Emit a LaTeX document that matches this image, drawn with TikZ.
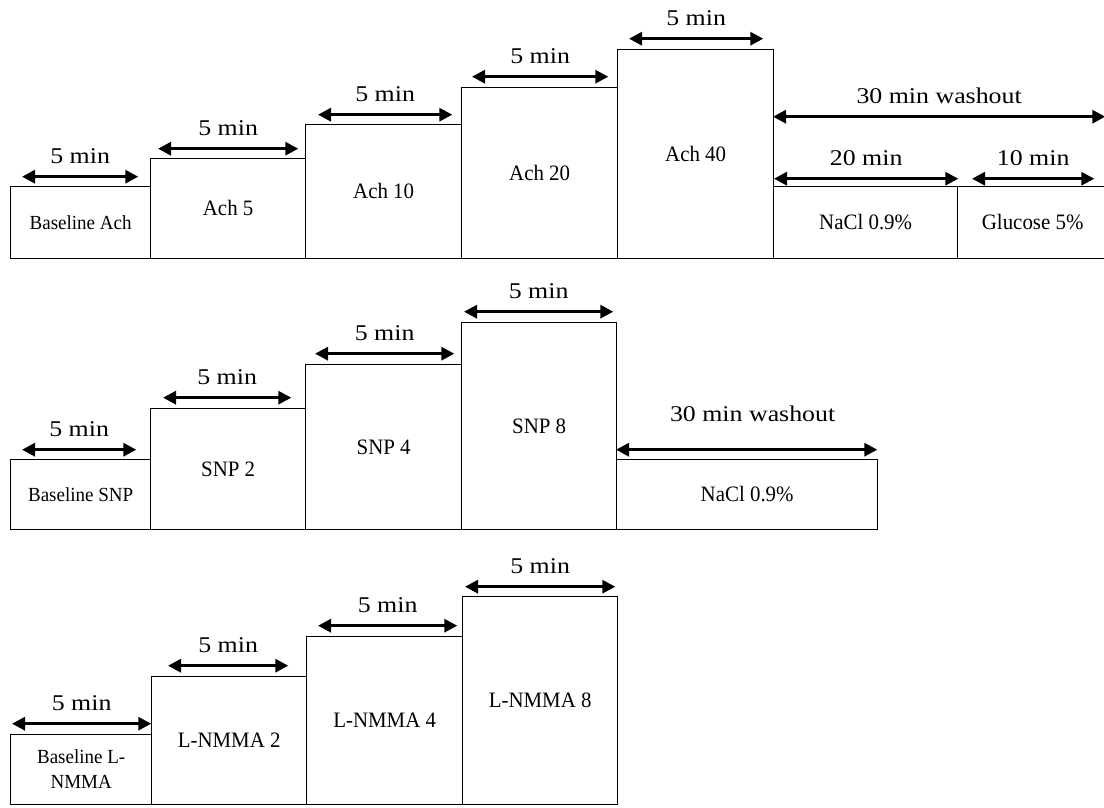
\documentclass[tikz,border=0pt]{standalone}
\usepackage{fontspec}
\setmainfont{Liberation Serif}
\newfontfamily\durfont[FakeStretch=1.15]{Liberation Serif}
\newfontfamily\stagefont[FakeStretch=0.95]{Liberation Serif}
\usetikzlibrary{arrows.meta}

\begin{document}
\begin{tikzpicture}[x=1pt,y=-1pt,>={Triangle[length=13pt,width=13pt]},
  stage/.style={draw,line width=1.3pt,anchor=south west,inner sep=0pt,align=center,
    font=\stagefont\fontsize{22}{25}\selectfont},
  basestage/.style={stage,font=\stagefont\fontsize{20}{25}\selectfont},
  dur/.style={<->,line width=3pt},
  durlbl/.style={midway,anchor=base,yshift=13pt,font=\durfont\fontsize{22.5}{24}\selectfont}]
  \useasboundingbox (0,0) rectangle (1104,808);

  % Ach protocol
  \node[basestage,minimum width=140pt,minimum height=72pt]  (ach0)  at (10,259)  {Baseline Ach};
  \node[stage,minimum width=155pt,minimum height=100pt]     (ach5)  at (150,259) {Ach 5};
  \node[stage,minimum width=156pt,minimum height=134pt]     (ach10) at (305,259) {Ach 10};
  \node[stage,minimum width=156pt,minimum height=171pt]     (ach20) at (461,259) {Ach 20};
  \node[stage,minimum width=156pt,minimum height=209pt]     (ach40) at (617,259) {Ach 40};
  \node[stage,minimum width=184pt,minimum height=72pt]      (nacl1) at (773,259) {NaCl 0.9\%};
  \node[stage,minimum width=150pt,minimum height=72pt]      (gluc)  at (957,259) {Glucose 5\%};
  \draw[dur] ([xshift=12pt,yshift=9pt]ach0.north west)   -- ([xshift=-13pt,yshift=9pt]ach0.north east)   node[durlbl] {5 min};
  \draw[dur] ([xshift=8pt,yshift=9pt]ach5.north west)    -- ([xshift=-8pt,yshift=9pt]ach5.north east)    node[durlbl] {5 min};
  \draw[dur] ([xshift=13pt,yshift=9pt]ach10.north west)  -- ([xshift=-10pt,yshift=9pt]ach10.north east)  node[durlbl] {5 min};
  \draw[dur] ([xshift=11pt,yshift=10pt]ach20.north west) -- ([xshift=-10pt,yshift=10pt]ach20.north east) node[durlbl] {5 min};
  \draw[dur] ([xshift=12pt,yshift=10pt]ach40.north west) -- ([xshift=-11pt,yshift=10pt]ach40.north east) node[durlbl] {5 min};
  \draw[dur] ([yshift=69pt]nacl1.north west) -- ([xshift=-3pt,yshift=69pt]gluc.north east) node[durlbl] {30 min washout};
  \draw[dur] ([xshift=1pt,yshift=7pt]nacl1.north west)   -- ([yshift=7pt]nacl1.north east)               node[durlbl] {20 min};
  \draw[dur] ([xshift=15pt,yshift=7pt]gluc.north west)   -- ([xshift=-14pt,yshift=7pt]gluc.north east)   node[durlbl] {10 min};

  % SNP protocol
  \node[basestage,minimum width=140pt,minimum height=70pt]  (snp0)  at (10,530)  {Baseline SNP};
  \node[stage,minimum width=155pt,minimum height=121pt]     (snp2)  at (150,530) {SNP 2};
  \node[stage,minimum width=156pt,minimum height=165pt]     (snp4)  at (305,530) {SNP 4};
  \node[stage,minimum width=155pt,minimum height=207pt]     (snp8)  at (461,530) {SNP 8};
  \node[stage,minimum width=261pt,minimum height=70pt]      (nacl2) at (616,530) {NaCl 0.9\%};
  \draw[dur] ([xshift=12pt,yshift=9pt]snp0.north west)  -- ([xshift=-15pt,yshift=9pt]snp0.north east)  node[durlbl] {5 min};
  \draw[dur] ([xshift=13pt,yshift=10pt]snp2.north west) -- ([xshift=-15pt,yshift=10pt]snp2.north east) node[durlbl] {5 min};
  \draw[dur] ([xshift=10pt,yshift=10pt]snp4.north west) -- ([xshift=-8pt,yshift=10pt]snp4.north east)  node[durlbl] {5 min};
  \draw[dur] ([xshift=3pt,yshift=10pt]snp8.north west)  -- ([xshift=-4pt,yshift=10pt]snp8.north east)  node[durlbl] {5 min};
  \draw[dur] ([yshift=9pt]nacl2.north west) -- ([xshift=-1pt,yshift=9pt]nacl2.north east)
     node[durlbl,yshift=15pt,xshift=6pt] {30 min washout};

  % L-NMMA protocol
  \node[basestage,minimum width=141pt,minimum height=70pt]  (ln0) at (10,805)  {Baseline L-\\NMMA};
  \node[stage,minimum width=155pt,minimum height=128pt]     (ln2) at (151,805) {L-NMMA 2};
  \node[stage,minimum width=156pt,minimum height=168pt]     (ln4) at (306,805) {L-NMMA 4};
  \node[stage,minimum width=155pt,minimum height=208pt]     (ln8) at (462,805) {L-NMMA 8};
  \draw[dur] ([xshift=2pt,yshift=10pt]ln0.north west)  -- ([xshift=-1pt,yshift=10pt]ln0.north east)  node[durlbl] {5 min};
  \draw[dur] ([xshift=17pt,yshift=10pt]ln2.north west) -- ([xshift=-19pt,yshift=10pt]ln2.north east) node[durlbl] {5 min};
  \draw[dur] ([xshift=12pt,yshift=10pt]ln4.north west) -- ([xshift=-6pt,yshift=10pt]ln4.north east)  node[durlbl] {5 min};
  \draw[dur] ([xshift=3pt,yshift=9pt]ln8.north west)   -- ([xshift=-3pt,yshift=9pt]ln8.north east)   node[durlbl] {5 min};
\end{tikzpicture}
\end{document}
